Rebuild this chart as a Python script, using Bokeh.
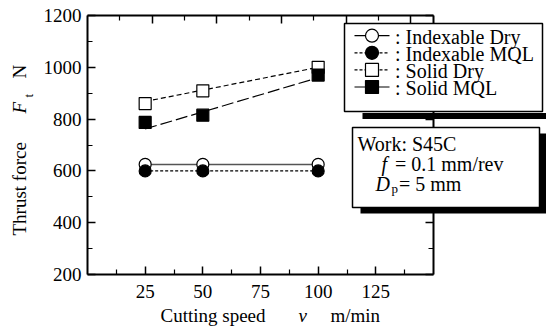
import math
from bokeh.plotting import figure
from bokeh.models import Range1d, LinearAxis, FixedTicker
from bokeh.core.properties import value
from bokeh.embed import file_html
from bokeh.resources import INLINE

# ---------------- data ----------------
speed = [25, 50, 100]
indexable_dry = [625, 625, 625]
indexable_mql = [600, 600, 600]
solid_dry = [860, 909, 1000]
solid_mql = [787, 815, 970]
fit_speed = [25, 100]
solid_dry_fit = [868, 1000]
solid_mql_fit = [762, 960]

x_ticks = [25, 50, 75, 100, 125]
x_minor = [12.5, 37.5, 62.5, 87.5, 112.5, 137.5]
y_ticks = [200, 400, 600, 800, 1000, 1200]
y_minor = [300, 500, 700, 900, 1100]
top_ticks = [2, 4, 6, 8, 10]
top_minor = [1, 3, 5, 7, 9]

legend_labels = [": Indexable Dry", ": Indexable MQL", ": Solid Dry", ": Solid MQL"]

# ---------------- layout ----------------
FONT = "Liberation Serif"
W, H = 546, 329
FL, FT, FW, FH = 87, 15, 346, 259
X0, X1, Y0, Y1 = 0, 150, 200, 1200


def ix(px):
    """canvas px -> data x"""
    return X0 + (px - FL) * (X1 - X0) / FW


def iy(py):
    """canvas px -> data y"""
    return Y1 - (py - FT) * (Y1 - Y0) / FH


p = figure(width=W, height=H, x_range=Range1d(X0, X1), y_range=Range1d(Y0, Y1),
           output_backend="svg", toolbar_location=None,
           min_border_left=FL, min_border_right=W - FL - FW,
           min_border_top=FT, min_border_bottom=H - FT - FH,
           background_fill_color="white", border_fill_color="white")
p.grid.visible = False
p.outline_line_color = None


def style(ax, labels=True, standoff=6):
    ax.axis_line_color = "black"
    ax.axis_line_width = 2
    ax.major_tick_in = 8
    ax.major_tick_out = 0
    ax.minor_tick_in = 5
    ax.minor_tick_out = 0
    ax.major_tick_line_color = "black"
    ax.major_tick_line_width = 1.5
    ax.minor_tick_line_color = "black"
    ax.minor_tick_line_width = 1.2
    ax.major_label_text_font = FONT
    if labels:
        ax.major_label_text_color = "black"
        ax.major_label_text_font_size = "19px"
        ax.major_label_standoff = standoff
    else:
        ax.major_label_text_color = None
        ax.major_label_text_font_size = "1px"
        ax.major_label_standoff = 0


p.xaxis.ticker = FixedTicker(ticks=x_ticks, minor_ticks=x_minor)
p.yaxis.ticker = FixedTicker(ticks=y_ticks, minor_ticks=y_minor)
style(p.xaxis[0], standoff=10)
style(p.yaxis[0], standoff=6)

p.extra_x_ranges = {"top": Range1d(0, 10.7)}
top_ax = LinearAxis(x_range_name="top", ticker=FixedTicker(ticks=top_ticks, minor_ticks=top_minor))
style(top_ax, labels=False)
p.add_layout(top_ax, "above")
right_ax = LinearAxis(ticker=FixedTicker(ticks=y_ticks, minor_ticks=y_minor))
style(right_ax, labels=False)
p.add_layout(right_ax, "right")

# ---------------- series ----------------
MS = 12
p.line(speed, indexable_dry, line_color="#555555", line_width=1.6)
p.line(speed, indexable_mql, line_color="black", line_width=1.2, line_dash="3 2")
p.line(fit_speed, solid_dry_fit, line_color="black", line_width=1.2, line_dash="5 3")
p.line(fit_speed, solid_mql_fit, line_color="black", line_width=1.2, line_dash="12 4")

p.scatter(speed, indexable_dry, marker="circle", size=MS, fill_color="white", line_color="black", line_width=1.2)
p.scatter(speed, indexable_mql, marker="circle", size=MS, fill_color="black", line_color="black", line_width=1.2)
p.scatter(speed, solid_dry, marker="square", size=MS, fill_color="white", line_color="black", line_width=1.2)
p.scatter(speed, solid_mql, marker="square", size=MS, fill_color="black", line_color="black", line_width=1.2)


# ---------------- text helpers ----------------
def label(x, y, text, size="19px", style="normal", angle=0):
    return p.text(x=[ix(x)], y=[iy(y)], text=[text], text_font=value(FONT),
                  text_font_size=value(size), text_font_style=value(style),
                  text_color="black", text_align="left", text_baseline="alphabetic",
                  angle=angle, level="overlay")


def box(l, t, r, b, fill, line):
    return p.quad(left=[ix(l)], right=[ix(r)], top=[iy(t)], bottom=[iy(b)],
                  fill_color=fill, fill_alpha=1, line_color=line, line_width=1.5,
                  level="annotation")


# axis titles
label(160, 315, "Cutting speed")
label(298, 315, "v", style="italic")
label(330, 315, "m/min")
label(18.5, 235, "Thrust force", angle=math.pi / 2)
label(18.5, 113, "F", style="italic", angle=math.pi / 2)
label(27.5, 97, "t", size="13px", angle=math.pi / 2)
label(18.5, 78, "N", angle=math.pi / 2)

# ---------------- legend box ----------------
box(362, 112.5, 600, 118.5, "black", None)
box(344, 23, 542, 111, "white", "black")

row_y = [35.2 + 17.1 * i for i in range(4)]
samples = [
    dict(marker="circle", fill="white", dash="solid"),
    dict(marker="circle", fill="black", dash="3 2"),
    dict(marker="square", fill="white", dash="3 2"),
    dict(marker="square", fill="black", dash="solid"),
]
for ry, s, txt in zip(row_y, samples, legend_labels):
    p.line([ix(354), ix(389)], [iy(ry), iy(ry)], line_color="black", line_width=1.2,
           line_dash=s["dash"], level="overlay")
    p.scatter([ix(371.5)], [iy(ry)], marker=s["marker"], size=13, fill_color=s["fill"],
              line_color="black", line_width=1.2, level="overlay")
    label(394.5, ry + 1.3, txt, size="20px")

# ---------------- condition box ----------------
box(360, 133, 600, 213, "black", None)
box(352, 127, 539, 207, "white", "black")
label(357, 143.3, "Work: S45C", size="20px")
label(381, 163, "f", size="20px", style="italic")
label(394.5, 163, "= 0.1 mm/rev", size="20px")
label(375, 183, "D", size="20px", style="italic")
label(391, 188, "p", size="13px")
label(398.5, 183, "= 5 mm", size="20px")

open("out.html", "w").write(file_html(p, INLINE))
